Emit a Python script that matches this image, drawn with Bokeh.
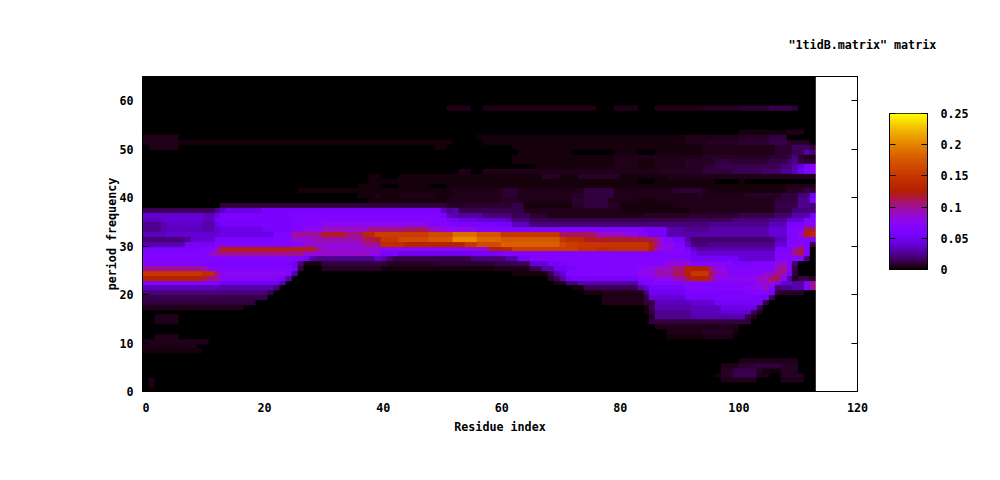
import numpy as np
from bokeh.plotting import figure
from bokeh.layouts import column, row
from bokeh.models import LinearColorMapper, LinearAxis, Label, FixedTicker, Range1d
from bokeh.embed import file_html
from bokeh.resources import INLINE

TITLE = '"1tidB.matrix" matrix'
X_LABEL = "Residue index"
Y_LABEL = "period frequency"
X_TICKS = [0, 20, 40, 60, 80, 100, 120]
Y_TICKS = [0, 10, 20, 30, 40, 50, 60]
CB_TICKS = [0, 0.05, 0.1, 0.15, 0.2, 0.25]
CB_LABELS = {0: "0", 0.05: "0.05", 0.1: "0.1", 0.15: "0.15", 0.2: "0.2", 0.25: "0.25"}
N_COLS, N_ROWS = 113, 66

# Each row: end column, value (in thousandths), end column, value, ... (runs of equal value)
r58 = [51,0,55,4,57,0,76,4,79,0,83,4,86,0,94,4,100,6,105,8,109,12,110,8]
r53 = [100,0,108,3,111,5]
r52 = [6,5,56,0,91,3,95,4,100,5,105,7,108,10]
r51 = [6,5,52,3,57,0,91,3,95,4,100,6,105,8,108,12,109,8,112,6]
r50 = [1,0,6,5,49,0,51,3,62,0,94,3,106,4,109,8,112,16,113,10]
r49 = [63,0,72,3,79,0,83,3,86,0,94,3,106,4,109,8,111,15,112,30,113,20]
r48 = [62,0,79,3,94,4,105,6,108,8,109,12,110,20,111,8,113,4]
r47 = [62,0,79,3,83,4,86,3,91,5,94,6,96,7,99,10,105,8,108,12,109,18,110,25,111,10,113,8]
r46 = [66,0,79,3,83,4,86,3,91,5,94,6,96,8,104,12,107,14,109,20,110,30,111,40,112,60,113,70]
r45 = [53,0,55,4,57,0,87,4,94,6,99,10,104,14,107,18,109,25,110,35,111,50,112,65,113,75]
r44 = [38,0,40,3,43,0,67,3,70,6,73,3,80,6,88,3,99,5,113,4]
r43 = [38,0,83,2,86,0,94,2,96,3,100,0,101,2]
r42 = [36,0,40,3,43,0,48,3,51,0,100,3,108,2,112,5,113,4]
r41 = [26,0,52,3,60,5,63,8,74,5,79,10,89,4,94,8,95,4,108,3,111,6,112,12,113,8]
r40 = [36,0,39,2,40,4,43,3,49,5,52,3,60,5,63,8,72,5,74,6,79,10,93,5,94,7,101,5,107,6,110,10,112,20,113,50]
r39 = [38,0,51,3,60,4,63,6,72,4,74,8,78,10,83,4,86,2,94,4,106,5,110,10,112,25,113,60]
r38 = [13,0,51,10,54,6,62,9,64,12,72,3,74,6,78,10,80,6,89,3,94,5,106,4,110,12,112,25,113,20]
r37 = [12,15,13,25,14,35,20,45,50,60,51,35,52,25,53,30,64,12,80,4,92,3,106,5,109,10,113,20]
r36 = [10,40,12,35,13,45,25,60,50,64,51,55,52,35,53,30,57,28,62,20,65,15,68,8,84,5,92,7,100,8,106,12,109,18,112,30,113,55]
r35 = [3,35,10,40,12,35,13,55,25,60,51,65,53,55,56,45,61,40,62,35,65,20,68,15,91,12,99,15,105,20,108,25,111,40,113,68]
r34 = [3,25,4,30,10,38,12,30,13,45,20,55,25,60,27,64,30,68,48,78,52,68,59,60,62,55,65,35,84,21,95,20,105,25,108,35,111,60,113,70]
r33 = [3,25,4,30,10,35,12,30,13,40,20,45,22,55,25,60,27,68,30,80,38,90,44,105,48,110,50,90,56,80,61,68,84,64,88,55,91,30,95,25,105,30,108,40,111,64,113,115]
r32 = [4,35,13,40,22,45,25,64,30,100,34,120,37,105,39,135,48,155,52,165,56,188,60,172,70,150,76,110,81,90,83,80,85,68,88,55,92,30,105,30,108,40,110,64,111,85,112,125,113,135]
r31 = [7,20,8,25,12,40,22,60,25,64,29,85,37,95,39,110,40,120,43,150,48,165,52,175,56,205,60,185,70,175,71,150,74,140,77,120,85,118,86,110,87,100,89,70,91,55,92,30,106,18,108,35,113,64]
r30 = [7,30,12,55,25,64,27,70,37,85,40,100,44,140,54,130,56,150,60,165,70,180,71,165,73,155,77,150,85,148,86,130,87,100,89,80,91,68,92,40,95,20,106,25,108,40,110,64,111,75,112,64,113,12]
r29 = [9,60,11,64,12,68,13,90,27,125,29,130,30,100,40,85,55,75,58,85,60,120,62,130,73,155,76,145,79,140,85,145,86,125,87,90,89,80,91,70,92,60,93,40,106,30,109,60,110,95,111,115,112,68]
r28 = [11,63,12,85,13,95,27,100,30,85,38,88,40,80,42,60,43,64,55,50,60,55,62,64,91,68,92,64,93,50,106,40,109,70,110,100,111,110,112,68]
r27 = [11,64,17,68,27,64,28,55,29,30,39,25,40,40,41,30,42,20,55,12,61,20,63,30,65,55,92,64,100,55,106,40,108,64,111,70,112,20]
r26 = [11,64,25,60,26,50,27,20,30,3,41,10,49,6,59,8,62,12,65,15,68,40,70,55,72,60,78,64,88,68,92,85,99,70,102,60,106,64,108,85,109,68,110,20]
r25 = [10,100,11,90,25,64,26,55,27,10,30,0,40,6,41,3,59,3,65,4,67,15,69,30,71,50,73,60,83,66,86,75,89,90,91,105,95,125,96,100,98,80,106,68,107,90,108,105,109,70,110,12]
r24 = [10,150,12,140,13,100,24,75,25,68,26,30,62,0,68,2,69,15,70,30,71,40,83,63,86,80,89,95,91,110,92,125,95,150,96,110,98,85,104,70,106,85,107,105,108,95,109,60,110,10]
r23 = [10,125,11,115,13,100,23,70,24,55,25,30,68,0,69,6,70,15,71,30,72,50,83,55,86,68,89,80,91,95,92,115,95,130,96,105,103,75,105,90,107,110,108,70,109,30,110,5,112,12,113,6]
r22 = [13,64,23,50,24,30,69,0,71,4,73,20,83,30,84,55,92,64,103,68,105,85,106,90,107,68,109,40,111,30,112,64,113,100]
r21 = [13,35,22,30,23,20,72,0,74,3,83,15,84,30,85,40,91,55,101,64,104,75,105,90,106,68,107,20,109,25,111,30,112,64,113,100]
r20 = [21,20,22,12,74,0,77,2,84,4,85,20,91,50,101,60,105,68,106,55,107,10,111,6]
r19 = [21,12,77,0,84,4,85,10,91,40,96,55,103,60,105,55,106,15]
r18 = [19,10,77,0,84,4,86,10,92,35,96,40,104,55,105,10]
r17 = [17,5,84,0,85,3,86,12,92,30,97,35,103,45,104,12]
r16 = [84,0,85,3,86,10,92,25,97,35,102,40,103,15,104,4]
r15 = [2,0,6,4,85,0,86,6,92,25,101,30,102,12,103,4]
r14 = [2,0,6,4,85,0,102,10]
r13 = [86,0,100,4]
r12 = [88,0,94,4,99,6,100,3]
r11 = [2,0,6,4,88,0,94,2,99,4]
r10 = [11,4]
r9 = [9,5]
r8 = [10,3]
r6 = [100,0,110,4]
r5 = [97,0,100,4,103,8,107,10,110,7]
r4 = [97,0,99,6,103,12,104,7,107,3,110,7]
r3 = [96,0,97,3,99,6,103,14,105,4,107,1,111,6]
r2 = [1,0,2,5,97,0,103,5,107,0,111,5]
r1 = [1,0,2,5]

rows = {58:r58,53:r53,52:r52,51:r51,50:r50,49:r49,48:r48,47:r47,46:r46,45:r45,44:r44,43:r43,
        42:r42,41:r41,40:r40,39:r39,38:r38,37:r37,36:r36,35:r35,34:r34,33:r33,32:r32,31:r31,
        30:r30,29:r29,28:r28,27:r27,26:r26,25:r25,24:r24,23:r23,22:r22,21:r21,20:r20,19:r19,
        18:r18,17:r17,16:r16,15:r15,14:r14,13:r13,12:r12,11:r11,10:r10,9:r9,8:r8,6:r6,5:r5,
        4:r4,3:r3,2:r2,1:r1}

matrix = np.zeros((N_ROWS, N_COLS))
for j, runs in rows.items():
    start = 0
    for end, val in zip(runs[0::2], runs[1::2]):
        matrix[j, start:end] = val / 1000.0
        start = end

# gnuplot default pm3d palette (rgbformulae 7,5,15)
def colour(t):
    r = np.sqrt(t)
    g = t ** 3
    b = max(np.sin(2 * np.pi * t), 0)
    return "#%02x%02x%02x" % (int(r * 255), int(g * 255), int(b * 255))

palette = [colour(i / 127) for i in range(128)]
mapper = LinearColorMapper(palette=palette, low=0, high=0.25)

FONT = "DejaVu Sans Mono"
FS = "11.7px"


def style_axis(ax, ticks, labels=True):
    ax.ticker = FixedTicker(ticks=ticks)
    ax.major_tick_in = 6
    ax.major_tick_out = 0
    ax.minor_tick_line_color = None
    ax.axis_line_color = "black"
    ax.major_tick_line_color = "black"
    ax.major_label_text_font = FONT
    ax.major_label_text_font_style = "bold"
    ax.major_label_text_color = "black"
    ax.major_label_text_font_size = FS
    if not labels:
        ax.major_label_overrides = {t: "" for t in ticks}
        ax.major_label_standoff = 0


def style_title(ax):
    ax.axis_label_text_font = FONT
    ax.axis_label_text_font_style = "bold"
    ax.axis_label_text_font_size = FS
    ax.axis_label_text_color = "black"


# top strip holding the title
top = figure(width=992, height=68, output_backend="svg", toolbar_location=None,
             x_axis_type=None, y_axis_type=None, min_border=0, outline_line_color=None,
             x_range=Range1d(0, 1), y_range=Range1d(0, 1), frame_align=False)
top.grid.visible = False
top.add_layout(Label(x=788, y=24, x_units="screen", y_units="screen", text=TITLE,
                     text_font=FONT, text_font_style="bold", text_font_size=FS,
                     text_color="black", text_baseline="middle", text_align="left"))

# main heatmap
p = figure(width=883, height=404, output_backend="svg", toolbar_location=None,
           x_range=Range1d(0, 120), y_range=Range1d(0, 65),
           min_border_left=142, min_border_right=26, min_border_top=8, min_border_bottom=81,
           outline_line_color="black", frame_align=False)
p.grid.visible = False
p.image(image=[matrix], x=0, y=-0.2, dw=N_COLS, dh=N_ROWS, color_mapper=mapper)
style_axis(p.xaxis[0], X_TICKS, labels=False)
style_axis(p.yaxis[0], Y_TICKS)
p.yaxis[0].axis_label = Y_LABEL
style_title(p.yaxis[0])
p.yaxis[0].major_label_standoff = 9
p.yaxis[0].axis_label_standoff = -3

# the x tick labels sit slightly right of their ticks in the reference: they belong
# to a second, label-only axis on a range nudged to the left at its low end
p.extra_x_ranges["labels"] = Range1d(-0.59, 120)
x_labels = LinearAxis(x_range_name="labels")
style_axis(x_labels, X_TICKS)
x_labels.axis_line_color = None
x_labels.major_tick_line_color = None
x_labels.major_tick_in = 0
x_labels.major_label_standoff = 11
x_labels.axis_label = X_LABEL
x_labels.axis_label_standoff = 5
style_title(x_labels)
p.add_layout(x_labels, "below")

top_ax = LinearAxis()
right_ax = LinearAxis()
style_axis(top_ax, X_TICKS, labels=False)
style_axis(right_ax, Y_TICKS, labels=False)
p.add_layout(top_ax, "above")
p.add_layout(right_ax, "right")

# colour bar
levels = np.linspace(0, 0.25, 128).reshape(128, 1)
cb = figure(width=109, height=404, output_backend="svg", toolbar_location=None,
            x_range=Range1d(0, 1), y_range=Range1d(0, 0.25), x_axis_type=None, y_axis_type=None,
            min_border_left=6, min_border_right=65, min_border_top=45, min_border_bottom=203,
            outline_line_color="black", frame_align=False)
cb.grid.visible = False
cb.image(image=[levels], x=0, y=0, dw=1, dh=0.25, color_mapper=mapper)
cb_left = LinearAxis()
cb_right = LinearAxis()
style_axis(cb_left, CB_TICKS, labels=False)
style_axis(cb_right, CB_TICKS)
cb_right.major_label_standoff = 13
cb_right.major_label_overrides = CB_LABELS
cb.add_layout(cb_left, "left")
cb.add_layout(cb_right, "right")

page = column(top, row(p, cb, spacing=0), spacing=0)
open("out.html", "w").write(file_html(page, INLINE))
